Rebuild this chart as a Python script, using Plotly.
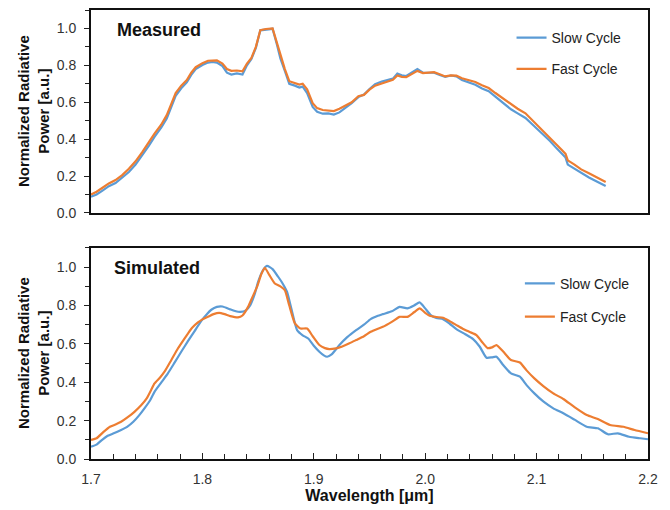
import plotly.graph_objects as go

# ---------------- Measured (top panel) ----------------
meas_x = [1.700, 1.705, 1.710, 1.716, 1.722, 1.728, 1.734, 1.740, 1.746, 1.752,
          1.757, 1.763, 1.768, 1.772, 1.776, 1.781, 1.786, 1.790, 1.794, 1.800,
          1.805, 1.809, 1.813, 1.818, 1.822, 1.826, 1.831, 1.836, 1.840, 1.844,
          1.848, 1.852, 1.857, 1.863, 1.867, 1.870, 1.874, 1.878, 1.883, 1.887,
          1.890, 1.894, 1.899, 1.903, 1.908, 1.913, 1.918, 1.923, 1.928, 1.934,
          1.940, 1.945, 1.950, 1.955, 1.961, 1.966, 1.971, 1.975, 1.979, 1.983,
          1.988, 1.993, 1.998, 2.003, 2.008, 2.013, 2.018, 2.023, 2.028, 2.033,
          2.039, 2.045, 2.051, 2.057, 2.063, 2.070, 2.077, 2.083, 2.090, 2.097,
          2.105, 2.112, 2.118, 2.122, 2.126, 2.128, 2.134, 2.140, 2.147, 2.154,
          2.162]
meas_fast = [0.100, 0.115, 0.135, 0.160, 0.178, 0.205, 0.240, 0.280, 0.330, 0.385,
             0.430, 0.478, 0.530, 0.590, 0.650, 0.690, 0.720, 0.760, 0.790, 0.812,
             0.825, 0.826, 0.827, 0.810, 0.780, 0.770, 0.772, 0.768, 0.810, 0.840,
             0.900, 0.990, 0.997, 1.000, 0.920, 0.850, 0.780, 0.714, 0.705, 0.696,
             0.700, 0.670, 0.595, 0.568, 0.558, 0.556, 0.552, 0.565, 0.580, 0.600,
             0.633, 0.640, 0.668, 0.690, 0.702, 0.712, 0.722, 0.745, 0.738, 0.736,
             0.752, 0.770, 0.758, 0.762, 0.763, 0.752, 0.740, 0.746, 0.744, 0.730,
             0.722, 0.710, 0.692, 0.677, 0.650, 0.620, 0.588, 0.565, 0.540, 0.498,
             0.452, 0.410, 0.370, 0.345, 0.320, 0.285, 0.262, 0.236, 0.215, 0.192,
             0.168]
meas_slow = [0.088, 0.100, 0.120, 0.145, 0.162, 0.190, 0.222, 0.262, 0.312, 0.365,
             0.412, 0.462, 0.512, 0.572, 0.635, 0.676, 0.708, 0.748, 0.780, 0.802,
             0.815, 0.818, 0.815, 0.796, 0.760, 0.750, 0.756, 0.750, 0.800, 0.835,
             0.895, 0.990, 0.995, 0.998, 0.910, 0.838, 0.770, 0.700, 0.690, 0.680,
             0.685, 0.650, 0.575, 0.548, 0.538, 0.540, 0.533, 0.545, 0.568, 0.595,
             0.628, 0.642, 0.672, 0.698, 0.712, 0.720, 0.728, 0.755, 0.746, 0.742,
             0.760, 0.780, 0.760, 0.760, 0.760, 0.748, 0.738, 0.745, 0.740, 0.720,
             0.708, 0.695, 0.675, 0.660, 0.630, 0.598, 0.562, 0.540, 0.515, 0.475,
             0.430, 0.390, 0.350, 0.325, 0.300, 0.262, 0.240, 0.215, 0.192, 0.170,
             0.146]

# ---------------- Simulated (bottom panel) ----------------
sim_fast_x = [1.700, 1.705, 1.711, 1.717, 1.722, 1.727, 1.733, 1.739, 1.745, 1.750,
              1.754, 1.757, 1.762, 1.766, 1.772, 1.778, 1.783, 1.787, 1.791, 1.796,
              1.800, 1.805, 1.810, 1.815, 1.820, 1.825, 1.832, 1.836, 1.841, 1.845,
              1.849, 1.853, 1.856, 1.860, 1.865, 1.870, 1.874, 1.878, 1.883, 1.888,
              1.894, 1.899, 1.905, 1.910, 1.914, 1.920, 1.925, 1.932, 1.938, 1.945,
              1.951, 1.957, 1.962, 1.970, 1.977, 1.984, 1.990, 1.995, 2.000, 2.004,
              2.010, 2.016, 2.022, 2.028, 2.034, 2.040, 2.046, 2.051, 2.056, 2.060,
              2.064, 2.070, 2.077, 2.085, 2.091, 2.098, 2.106, 2.115, 2.124, 2.134,
              2.145, 2.155, 2.166, 2.178, 2.188, 2.200]
sim_fast = [0.099, 0.108, 0.140, 0.168, 0.180, 0.194, 0.218, 0.246, 0.280, 0.316,
            0.360, 0.394, 0.425, 0.455, 0.515, 0.576, 0.620, 0.654, 0.685, 0.712,
            0.728, 0.741, 0.755, 0.762, 0.755, 0.745, 0.738, 0.748, 0.793, 0.845,
            0.897, 0.965, 0.997, 0.960, 0.915, 0.900, 0.880, 0.800, 0.707, 0.680,
            0.680, 0.640, 0.594, 0.578, 0.573, 0.577, 0.585, 0.603, 0.620, 0.640,
            0.663, 0.678, 0.689, 0.715, 0.741, 0.741, 0.765, 0.785, 0.762, 0.747,
            0.740, 0.736, 0.718, 0.698, 0.678, 0.662, 0.646, 0.610, 0.578, 0.582,
            0.594, 0.560, 0.516, 0.503, 0.462, 0.420, 0.380, 0.342, 0.313, 0.270,
            0.229, 0.208, 0.177, 0.168, 0.151, 0.134]
sim_slow_x = [1.700, 1.705, 1.710, 1.715, 1.721, 1.727, 1.733, 1.738, 1.743, 1.748,
              1.753, 1.757, 1.763, 1.769, 1.775, 1.781, 1.787, 1.793, 1.799, 1.804,
              1.808, 1.813, 1.818, 1.825, 1.830, 1.834, 1.839, 1.843, 1.847, 1.850,
              1.854, 1.858, 1.863, 1.868, 1.872, 1.876, 1.880, 1.885, 1.890, 1.895,
              1.900, 1.905, 1.909, 1.912, 1.916, 1.923, 1.930, 1.938, 1.945, 1.951,
              1.957, 1.962, 1.970, 1.977, 1.984, 1.990, 1.995, 2.000, 2.005, 2.010,
              2.016, 2.022, 2.028, 2.036, 2.043, 2.049, 2.055, 2.060, 2.064, 2.070,
              2.077, 2.085, 2.091, 2.098, 2.106, 2.115, 2.124, 2.134, 2.145, 2.155,
              2.164, 2.173, 2.183, 2.193, 2.200]
sim_slow = [0.064, 0.075, 0.100, 0.121, 0.135, 0.151, 0.170, 0.194, 0.226, 0.264,
            0.305, 0.350, 0.398, 0.446, 0.502, 0.559, 0.614, 0.667, 0.720, 0.755,
            0.778, 0.793, 0.795, 0.780, 0.770, 0.767, 0.775, 0.802, 0.860, 0.923,
            0.980, 1.007, 0.990, 0.950, 0.915, 0.871, 0.780, 0.672, 0.645, 0.628,
            0.590, 0.559, 0.540, 0.533, 0.545, 0.594, 0.635, 0.672, 0.700, 0.729,
            0.745, 0.755, 0.770, 0.793, 0.785, 0.800, 0.816, 0.785, 0.750, 0.735,
            0.729, 0.705, 0.677, 0.650, 0.625, 0.585, 0.528, 0.530, 0.533, 0.490,
            0.446, 0.429, 0.385, 0.342, 0.300, 0.264, 0.238, 0.205, 0.168, 0.160,
            0.129, 0.134, 0.116, 0.108, 0.103]

series_names = ["Slow Cycle", "Fast Cycle"]
panel_titles = ["Measured", "Simulated"]
x_ticks = [1.7, 1.8, 1.9, 2.0, 2.1, 2.2]
y_ticks = [0.0, 0.2, 0.4, 0.6, 0.8, 1.0]

BLUE = "#5B9BD5"
ORANGE = "#ED7D31"
FONT = "Arial, 'Liberation Sans', sans-serif"

fig = go.Figure()

fig.add_trace(go.Scatter(x=meas_x, y=meas_slow, name=series_names[0], mode="lines",
                         line=dict(color=BLUE, width=2.2), xaxis="x", yaxis="y",
                         legend="legend", legendgroup="a"))
fig.add_trace(go.Scatter(x=meas_x, y=meas_fast, name=series_names[1], mode="lines",
                         line=dict(color=ORANGE, width=2.2), xaxis="x", yaxis="y",
                         legend="legend", legendgroup="b"))
fig.add_trace(go.Scatter(x=sim_slow_x, y=sim_slow, name=series_names[0], mode="lines",
                         line=dict(color=BLUE, width=2.2, shape="spline", smoothing=0.5),
                         xaxis="x2", yaxis="y2", legend="legend2", legendgroup="c"))
fig.add_trace(go.Scatter(x=sim_fast_x, y=sim_fast, name=series_names[1], mode="lines",
                         line=dict(color=ORANGE, width=2.2, shape="spline", smoothing=0.5),
                         xaxis="x2", yaxis="y2", legend="legend2", legendgroup="d"))

yax_common = dict(range=[0, 1.1], tickvals=y_ticks, tickformat=".1f",
                  ticks="outside", ticklen=5, tickcolor="#222", tickwidth=1,
                  ticklabelstandoff=5,
                  minor=dict(dtick=0.1, ticks="outside", ticklen=4, tickcolor="#222"),
                  showline=True, linecolor="#111", linewidth=2, mirror=True,
                  showgrid=False, zeroline=False,
                  tickfont=dict(family=FONT, size=14, color="#333"))

fig.update_layout(
    width=670, height=510,
    margin=dict(l=91, r=22, t=8, b=51),
    paper_bgcolor="white", plot_bgcolor="white",
    showlegend=True,
    xaxis=dict(domain=[0, 1], range=[1.7, 2.2], anchor="y", showticklabels=False,
               ticks="", showline=True, linecolor="#111", linewidth=2, mirror=True,
               showgrid=False, zeroline=False),
    yaxis=dict(domain=[0.548, 1.0], anchor="x", **yax_common),
    xaxis2=dict(domain=[0, 1], range=[1.7, 2.2], anchor="y2", tickvals=x_ticks,
                tickformat=".1f", ticks="inside", ticklen=6, tickcolor="#222",
                ticklabelstandoff=6,
                minor=dict(dtick=0.02, ticks="inside", ticklen=5, tickcolor="#222"),
                showline=True, linecolor="#111", linewidth=2, mirror=True,
                showgrid=False, zeroline=False,
                tickfont=dict(family=FONT, size=14, color="#333"),
                title=dict(text="<b>Wavelength [μm]</b>", standoff=4,
                           font=dict(family=FONT, size=16, color="#111"))),
    yaxis2=dict(domain=[0, 0.470], anchor="x2", **yax_common),
    legend=dict(x=0.755, y=0.973, xanchor="left", yanchor="top",
                bgcolor="rgba(0,0,0,0)", tracegroupgap=10,
                font=dict(family=FONT, size=14, color="#222")),
    legend2=dict(x=0.77, y=0.426, xanchor="left", yanchor="top",
                 bgcolor="rgba(0,0,0,0)", tracegroupgap=12,
                 font=dict(family=FONT, size=14, color="#222")),
)

annotations = [
    dict(text="<b>" + panel_titles[0] + "</b>", xref="x domain", yref="y domain",
         x=0.043, y=0.9, xanchor="left", yanchor="middle", showarrow=False,
         font=dict(family=FONT, size=18, color="#111")),
    dict(text="<b>" + panel_titles[1] + "</b>", xref="x2 domain", yref="y2 domain",
         x=0.038, y=0.905, xanchor="left", yanchor="middle", showarrow=False,
         font=dict(family=FONT, size=18, color="#111")),
    dict(text="<b>Normalized Radiative<br>Power [a.u.]</b>", xref="paper", yref="y domain",
         x=0, y=0.5, xanchor="right", yanchor="middle", xshift=-37, textangle=-90,
         showarrow=False, font=dict(family=FONT, size=15, color="#111")),
    dict(text="<b>Normalized Radiative<br>Power [a.u.]</b>", xref="paper", yref="y2 domain",
         x=0, y=0.5, xanchor="right", yanchor="middle", xshift=-37, textangle=-90,
         showarrow=False, font=dict(family=FONT, size=15, color="#111")),
]
fig.update_layout(annotations=annotations)

fig.write_html("out.html")
